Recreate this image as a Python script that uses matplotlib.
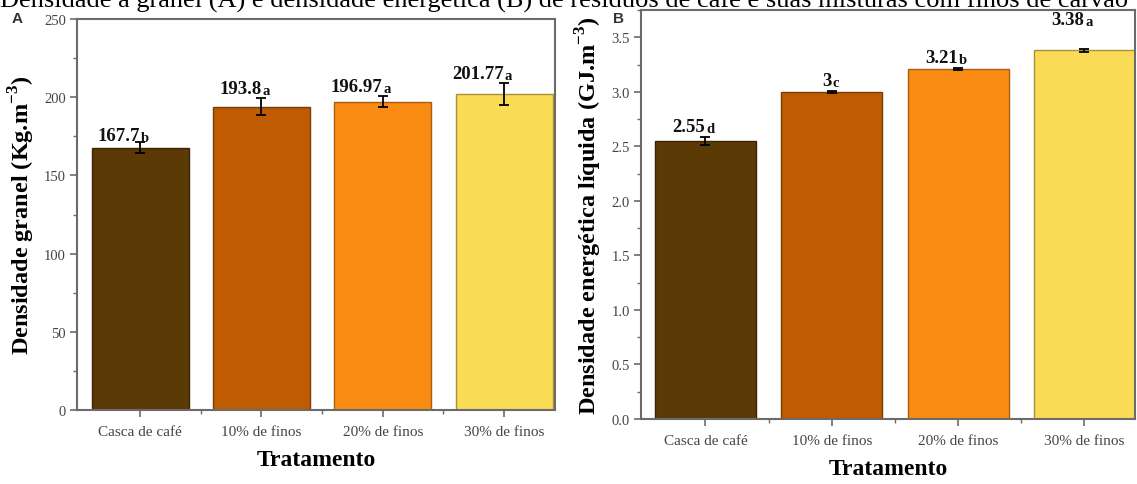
import matplotlib
matplotlib.use("Agg")
import matplotlib.pyplot as plt
from matplotlib.ticker import MultipleLocator, FixedLocator, FuncFormatter

categories = ["Casca de café", "10% de finos", "20% de finos", "30% de finos"]
colors = ["#5B3A06", "#BF5B00", "#FA8C14", "#FADB55"]
edge_colors = ["#3a2503", "#7a3c05", "#a85e0c", "#a89040"]

bulk_density = [167.7, 193.8, 196.97, 201.77]
bulk_err = [3.5, 5.5, 3.5, 7.0]
bulk_letters = ["b", "a", "a", "a"]
bulk_text = ["167.7", "193.8", "196.97", "201.77"]

energy_density = [2.55, 3.0, 3.21, 3.38]
energy_err = [0.04, 0.01, 0.01, 0.015]
energy_letters = ["d", "c", "b", "a"]
energy_text = ["2.55", "3", "3.21", "3.38"]

title = ("Densidade à granel (A) e densidade energética (B) de resíduos de café "
         "e suas misturas com finos de carvão")

serif = "Liberation Serif"
plt.rcParams["mathtext.fontset"] = "custom"
plt.rcParams["mathtext.rm"] = "Liberation Serif:bold"
plt.rcParams["mathtext.bf"] = "Liberation Serif:bold"

fig = plt.figure(figsize=(11.37, 4.85), dpi=100)
W, H = 1137, 485

def make_ax(l, r, b, t):
    return fig.add_axes([l / W, 1 - b / H, (r - l) / W, (b - t) / H])

axA = make_ax(77, 555, 411, 20)
axB = make_ax(641, 1135, 420, 11)

spine_col = "#6b6b6b"
tick_col = "#444444"

def style(ax, values, errs, letters, texts, nudges, ylim, major, minor, ylabel, fmt):
    x = range(len(categories))
    ax.bar(x, values, width=0.8, color=colors, edgecolor=edge_colors, linewidth=1.0, zorder=2)
    ax.errorbar(x, values, yerr=errs, fmt="none", ecolor="black", elinewidth=1.3,
                capsize=3.5, capthick=1.3, zorder=3)
    for i, (v, e, lt, tx, nd) in enumerate(zip(values, errs, letters, texts, nudges)):
        ax.annotate(tx, (i, v + e), xytext=(0, nd), textcoords="offset points",
                    ha="right", va="bottom", family=serif, fontweight="bold",
                    fontsize=13.5, color="#111111", annotation_clip=False, zorder=4)
        ax.annotate(lt, (i, v + e), xytext=(0.5, nd), textcoords="offset points",
                    ha="left", va="bottom", family=serif, fontweight="bold",
                    fontsize=10.5, color="#111111", annotation_clip=False, zorder=4)
    ax.set_ylim(*ylim)
    ax.yaxis.set_major_locator(MultipleLocator(major))
    ax.yaxis.set_minor_locator(MultipleLocator(minor))
    ax.set_xticks(list(x))
    ax.set_xticklabels(categories, family=serif, fontsize=11, color=tick_col)
    ax.xaxis.set_minor_locator(FixedLocator([0.5, 1.5, 2.5]))
    ax.yaxis.set_major_formatter(fmt)
    for lab in ax.get_yticklabels():
        lab.set_family(serif)
        lab.set_fontsize(10.5)
        lab.set_color(tick_col)
    ax.tick_params(axis="both", which="major", direction="out", length=5, width=1.2,
                   color=spine_col, pad=3)
    ax.tick_params(axis="both", which="minor", direction="out", length=3, width=1.0,
                   color=spine_col)
    ax.tick_params(axis="x", which="major", pad=6)
    for s in ax.spines.values():
        s.set_color(spine_col)
        s.set_linewidth(1.5)
    ax.set_xlabel("Tratamento", family=serif, fontweight="bold", fontsize=17, labelpad=8)
    ax.set_ylabel(ylabel, family=serif, fontweight="bold", fontsize=17.5, labelpad=5)

style(axA, bulk_density, bulk_err, bulk_letters, bulk_text, [-1, 1, 1, 1], (0, 250), 50, 25,
      "Densidade granel (Kg.m$^{-3}$)", FuncFormatter(lambda v, p: f"{v:.0f}"))
axA.set_xlim(-0.52, 3.42)
style(axB, energy_density, energy_err, energy_letters, energy_text, [1, 1, 1, 15], (0, 3.75), 0.5, 0.25,
      "Densidade energética líquida (GJ.m$^{-3}$)", FuncFormatter(lambda v, p: f"{v:.1f}"))
axB.set_xlim(-0.51, 3.4)

fig.text(12 / W, 1 - 19 / H, "A", family="Liberation Sans", fontweight="bold",
         fontsize=11, color="#333333", ha="left", va="center")
fig.text(613 / W, 1 - 19 / H, "B", family="Liberation Sans", fontweight="bold",
         fontsize=11, color="#333333", ha="left", va="center")
fig.text(0.0, 1 - 8 / H, title, family=serif, fontsize=19, color="black",
         ha="left", va="baseline")

fig.savefig("out.png", dpi=100, facecolor="white")
